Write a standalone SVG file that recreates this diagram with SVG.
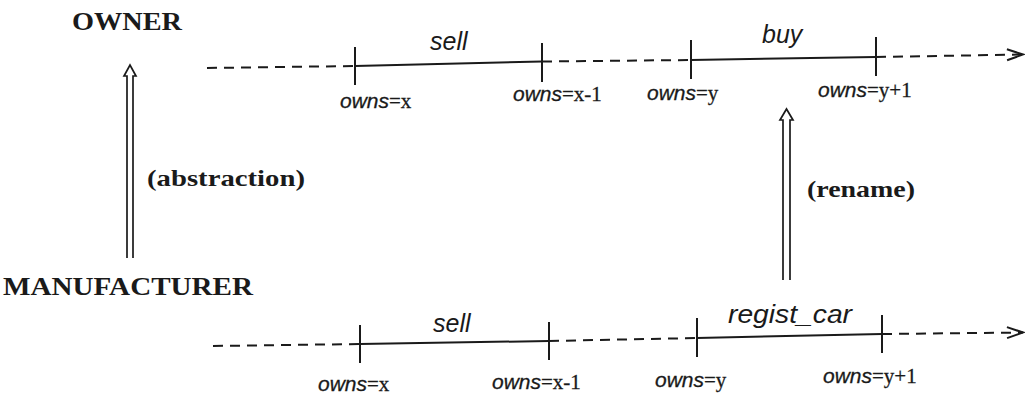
<svg xmlns="http://www.w3.org/2000/svg" width="1026" height="396" viewBox="0 0 1026 396">
<defs>
<style>
.ln{stroke:#1a1a1a;stroke-width:2;fill:none}
.ds{stroke:#1a1a1a;stroke-width:2;fill:none;stroke-dasharray:10 7}
.tk{stroke:#1a1a1a;stroke-width:2}
.dbl{stroke:#1a1a1a;stroke-width:1.7;fill:none;stroke-linejoin:miter}
.hd{font-family:"Liberation Serif",serif;font-weight:bold;fill:#1a1a1a}
.ev{font-family:"Liberation Sans",sans-serif;font-style:italic;font-size:25px;fill:#1a1a1a}
.st{font-family:"Liberation Serif",serif;font-size:21px;fill:#1a1a1a;stroke:#1a1a1a;stroke-width:0.3}
.ow{font-family:"Liberation Sans",sans-serif;font-style:italic}
</style>
<marker id="chev" markerWidth="20" markerHeight="14" refX="18" refY="7" orient="auto" markerUnits="userSpaceOnUse">
<polyline points="2,1.5 18,7 2,12.5" fill="none" stroke="#1a1a1a" stroke-width="2"/>
</marker>
</defs>
<rect width="1026" height="396" fill="#ffffff"/>

<g id="owner">
<text class="hd" x="72" y="30" font-size="26" textLength="110" lengthAdjust="spacingAndGlyphs">OWNER</text>
</g>
<g id="manufacturer">
<text class="hd" x="3" y="295" font-size="26" textLength="250" lengthAdjust="spacingAndGlyphs">MANUFACTURER</text>
</g>

<g id="connectors">
<!-- top timeline -->
<line class="ds" x1="207" y1="68" x2="355" y2="66"/>
<line class="ln" x1="355" y1="66" x2="542" y2="61.5"/>
<line class="ds" x1="542" y1="61.5" x2="691" y2="60"/>
<line class="ln" x1="691" y1="60" x2="876" y2="57"/>
<line class="ds" x1="876" y1="57" x2="1023" y2="54.5" marker-end="url(#chev)"/>
<line class="tk" x1="355" y1="47" x2="355" y2="85"/>
<line class="tk" x1="542" y1="43" x2="542" y2="82"/>
<line class="tk" x1="691" y1="40" x2="691" y2="79"/>
<line class="tk" x1="876" y1="37" x2="876" y2="76"/>
<!-- bottom timeline -->
<line class="ds" x1="213" y1="346" x2="360" y2="344"/>
<line class="ln" x1="360" y1="344" x2="549" y2="341"/>
<line class="ds" x1="549" y1="341" x2="697" y2="338"/>
<line class="ln" x1="697" y1="338" x2="882" y2="334"/>
<line class="ds" x1="882" y1="334" x2="1023" y2="332.5" marker-end="url(#chev)"/>
<line class="tk" x1="360" y1="325" x2="360" y2="363"/>
<line class="tk" x1="549" y1="322" x2="549" y2="360"/>
<line class="tk" x1="697" y1="318" x2="697" y2="357"/>
<line class="tk" x1="882" y1="315" x2="882" y2="353"/>
<!-- double arrows -->
<path class="dbl" d="M127,258 V76 H124 L130,65 L136,76 H133 V258"/>
<path class="dbl" d="M783,280 V120 H780 L786.5,109 L793,120 H790 V280"/>
</g>

<g id="labels">
<text class="ev" x="430" y="50">sell</text>
<text class="ev" x="762" y="43">buy</text>
<text class="ev" x="433" y="332">sell</text>
<text class="ev" x="728" y="323" textLength="124" lengthAdjust="spacingAndGlyphs">regist_car</text>
<text class="hd" x="147" y="186" font-size="23" textLength="158" lengthAdjust="spacingAndGlyphs">(abstraction)</text>
<text class="hd" x="807" y="197" font-size="23" textLength="108" lengthAdjust="spacingAndGlyphs">(rename)</text>

<text class="st" x="340" y="108"><tspan class="ow">owns</tspan>=x</text>
<text class="st" x="513" y="101"><tspan class="ow">owns</tspan>=x-1</text>
<text class="st" x="647" y="100"><tspan class="ow">owns</tspan>=y</text>
<text class="st" x="818" y="97"><tspan class="ow">owns</tspan>=y+1</text>

<text class="st" x="318" y="391"><tspan class="ow">owns</tspan>=x</text>
<text class="st" x="492" y="389"><tspan class="ow">owns</tspan>=x-1</text>
<text class="st" x="655" y="387"><tspan class="ow">owns</tspan>=y</text>
<text class="st" x="823" y="383"><tspan class="ow">owns</tspan>=y+1</text>
</g>
</svg>
